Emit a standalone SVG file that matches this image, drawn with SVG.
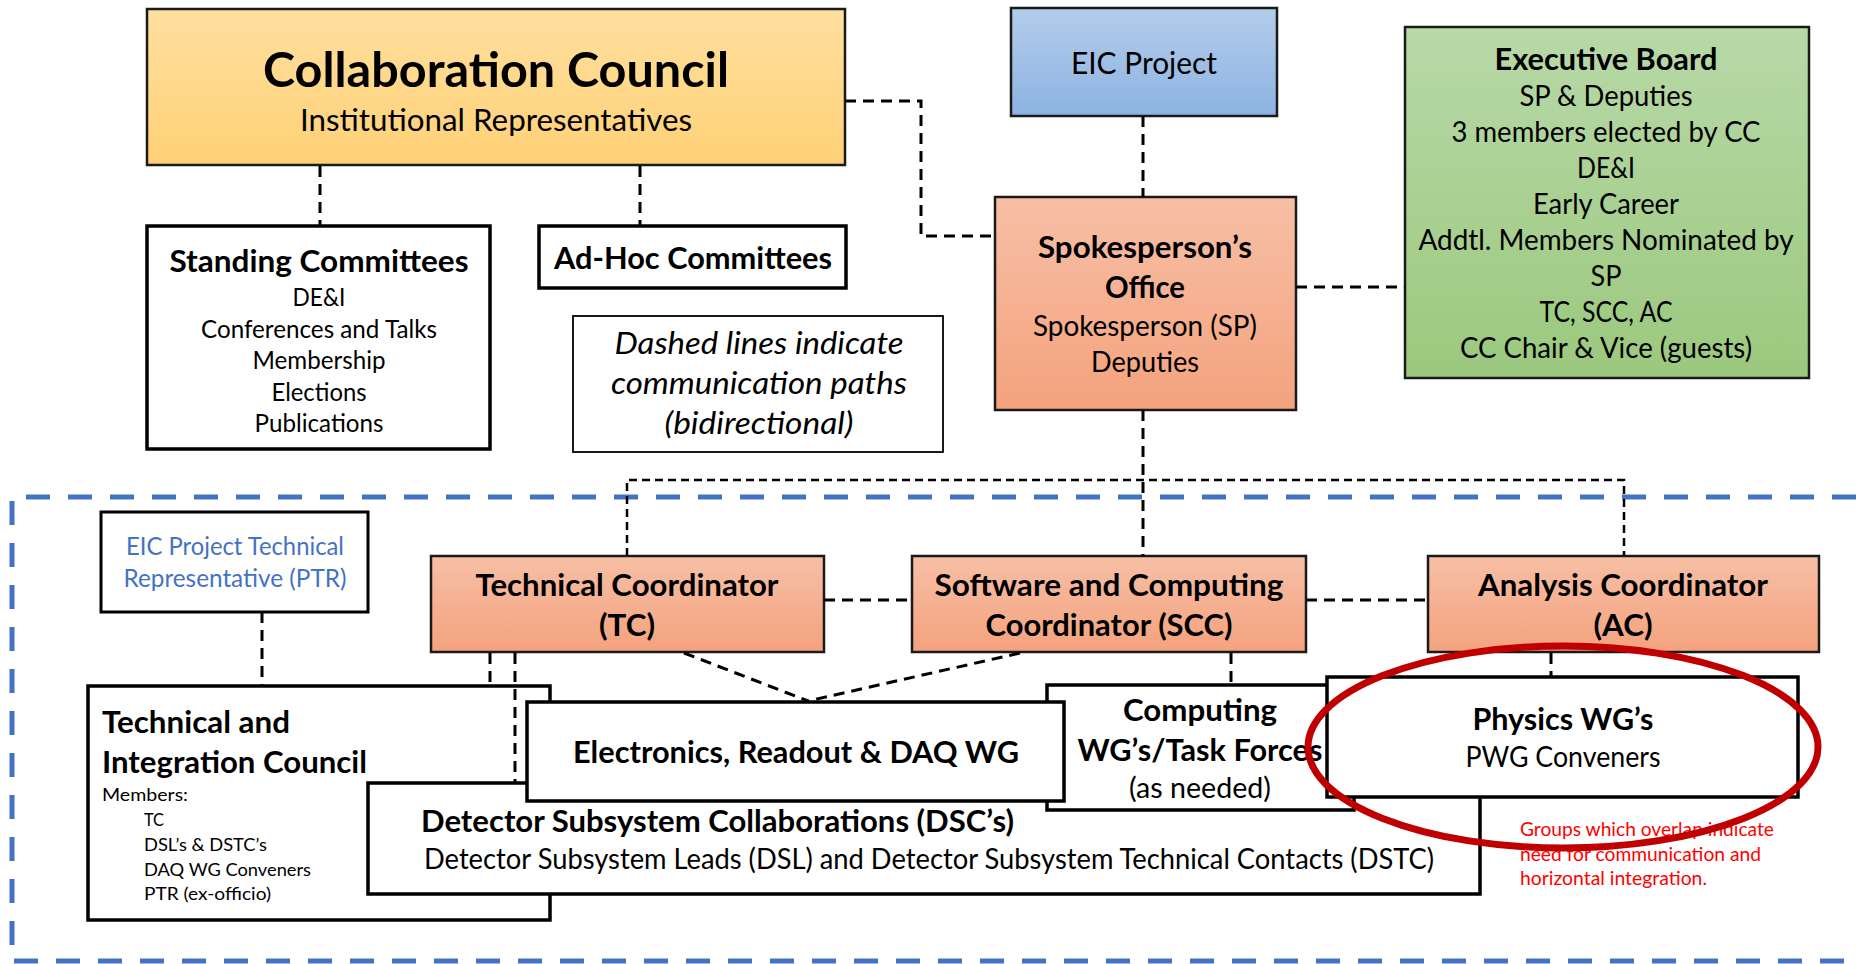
<svg xmlns="http://www.w3.org/2000/svg" width="1856" height="964" viewBox="0 0 1856 964">
<defs>
<linearGradient id="gOrange" x1="0" y1="0" x2="0" y2="1"><stop offset="0" stop-color="#FFDF9F"/><stop offset="1" stop-color="#FFD176"/></linearGradient>
<linearGradient id="gBlue" x1="0" y1="0" x2="0" y2="1"><stop offset="0" stop-color="#B4CCEA"/><stop offset="1" stop-color="#8DB3E2"/></linearGradient>
<linearGradient id="gGreen" x1="0" y1="0" x2="0" y2="1"><stop offset="0" stop-color="#B8D9A8"/><stop offset="1" stop-color="#9BC87D"/></linearGradient>
<linearGradient id="gSalmon" x1="0" y1="0" x2="0" y2="1"><stop offset="0" stop-color="#F7BFA6"/><stop offset="1" stop-color="#F4A27D"/></linearGradient>
</defs>
<style>
text{font-family:Lato,"Liberation Sans",sans-serif;fill:#000;text-anchor:middle}
.b{font-weight:700}
.it{font-style:italic}
.l{text-anchor:start}
.box{fill:#fff;stroke:#000;stroke-width:3.5}
.cbox{stroke:#1a1a1a;stroke-width:2.5}
.dash{fill:none;stroke:#000;stroke-width:3;stroke-dasharray:11 7}
.thin{fill:none;stroke:#000;stroke-width:2.5;stroke-dasharray:8 5}
.region{fill:none;stroke:#4472C4;stroke-width:5;stroke-dasharray:24 18}
.blue{fill:#4472C4}
.red{fill:#FF0000}
</style>
<rect width="1856" height="964" fill="#fff"/>
<path class="region" d="M1856,497 H12 V961 H1856"/>

<g id="collaboration-council">
<rect x="147" y="9" width="698" height="156" fill="url(#gOrange)" class="cbox"/>
<text x="496" y="87" class="b" font-size="48" textLength="466" lengthAdjust="spacingAndGlyphs">Collaboration Council</text>
<text x="496" y="131" font-size="31" textLength="392" lengthAdjust="spacingAndGlyphs">Institutional Representatives</text>
</g>
<g id="eic-project">
<rect x="1011" y="8" width="266" height="108" fill="url(#gBlue)" class="cbox"/>
<text x="1144" y="74" font-size="31" textLength="146" lengthAdjust="spacingAndGlyphs">EIC Project</text>
</g>
<g id="executive-board">
<rect x="1405" y="27" width="404" height="351" fill="url(#gGreen)" class="cbox"/>
<text x="1606" y="70" class="b" font-size="31" textLength="223" lengthAdjust="spacingAndGlyphs">Executive Board</text>
<text x="1606" y="106" font-size="28" textLength="173" lengthAdjust="spacingAndGlyphs">SP &amp; Deputies</text>
<text x="1606" y="142" font-size="28" textLength="309" lengthAdjust="spacingAndGlyphs">3 members elected by CC</text>
<text x="1606" y="178" font-size="28" textLength="58" lengthAdjust="spacingAndGlyphs">DE&amp;I</text>
<text x="1606" y="214" font-size="28" textLength="146" lengthAdjust="spacingAndGlyphs">Early Career</text>
<text x="1606" y="250" font-size="28" textLength="375" lengthAdjust="spacingAndGlyphs">Addtl. Members Nominated by</text>
<text x="1606" y="286" font-size="28" textLength="31" lengthAdjust="spacingAndGlyphs">SP</text>
<text x="1606" y="322" font-size="28" textLength="133" lengthAdjust="spacingAndGlyphs">TC, SCC, AC</text>
<text x="1606" y="358" font-size="28" textLength="292" lengthAdjust="spacingAndGlyphs">CC Chair &amp; Vice (guests)</text>
</g>
<g id="spokespersons-office">
<rect x="995" y="197" width="301" height="213" fill="url(#gSalmon)" class="cbox"/>
<text x="1145" y="258" class="b" font-size="31" textLength="214" lengthAdjust="spacingAndGlyphs">Spokesperson’s</text>
<text x="1145" y="298" class="b" font-size="31" textLength="80" lengthAdjust="spacingAndGlyphs">Office</text>
<text x="1145" y="336" font-size="28" textLength="224" lengthAdjust="spacingAndGlyphs">Spokesperson (SP)</text>
<text x="1145" y="372" font-size="28" textLength="108" lengthAdjust="spacingAndGlyphs">Deputies</text>
</g>
<g id="standing-committees">
<rect x="147" y="226" width="343" height="223" class="box"/>
<text x="319" y="272" class="b" font-size="31" textLength="299" lengthAdjust="spacingAndGlyphs">Standing Committees</text>
<text x="319" y="306" font-size="24.5" textLength="53" lengthAdjust="spacingAndGlyphs">DE&amp;I</text>
<text x="319" y="338" font-size="24.5" textLength="236" lengthAdjust="spacingAndGlyphs">Conferences and Talks</text>
<text x="319" y="369" font-size="24.5" textLength="133" lengthAdjust="spacingAndGlyphs">Membership</text>
<text x="319" y="401" font-size="24.5" textLength="95" lengthAdjust="spacingAndGlyphs">Elections</text>
<text x="319" y="432" font-size="24.5" textLength="129" lengthAdjust="spacingAndGlyphs">Publications</text>
</g>
<g id="ad-hoc-committees">
<rect x="539" y="226" width="307" height="62" class="box"/>
<text x="693" y="269" class="b" font-size="31" textLength="278" lengthAdjust="spacingAndGlyphs">Ad-Hoc Committees</text>
</g>
<g id="legend">
<rect x="573" y="316" width="370" height="136" fill="#fff" stroke="#000" stroke-width="1.8"/>
<text x="759" y="354" class="it" font-size="31" textLength="289" lengthAdjust="spacingAndGlyphs">Dashed lines indicate</text>
<text x="759" y="394" class="it" font-size="31" textLength="296" lengthAdjust="spacingAndGlyphs">communication paths</text>
<text x="759" y="434" class="it" font-size="31" textLength="189" lengthAdjust="spacingAndGlyphs">(bidirectional)</text>
</g>
<g id="ptr">
<rect x="101" y="512" width="267" height="100" fill="#fff" stroke="#000" stroke-width="3"/>
<text x="235" y="555" class="blue" font-size="24.5" textLength="218" lengthAdjust="spacingAndGlyphs">EIC Project Technical</text>
<text x="235" y="587" class="blue" font-size="24.5" textLength="223" lengthAdjust="spacingAndGlyphs">Representative (PTR)</text>
</g>
<g id="technical-coordinator">
<rect x="431" y="556" width="393" height="96" fill="url(#gSalmon)" class="cbox" stroke-width="3"/>
<text x="627" y="596" class="b" font-size="31" textLength="303" lengthAdjust="spacingAndGlyphs">Technical Coordinator</text>
<text x="627" y="636" class="b" font-size="31" textLength="56" lengthAdjust="spacingAndGlyphs">(TC)</text>
</g>
<g id="software-computing-coordinator">
<rect x="912" y="556" width="394" height="96" fill="url(#gSalmon)" class="cbox" stroke-width="3"/>
<text x="1109" y="596" class="b" font-size="31" textLength="349" lengthAdjust="spacingAndGlyphs">Software and Computing</text>
<text x="1109" y="636" class="b" font-size="31" textLength="247" lengthAdjust="spacingAndGlyphs">Coordinator (SCC)</text>
</g>
<g id="analysis-coordinator">
<rect x="1428" y="556" width="391" height="96" fill="url(#gSalmon)" class="cbox" stroke-width="3"/>
<text x="1623" y="596" class="b" font-size="31" textLength="290" lengthAdjust="spacingAndGlyphs">Analysis Coordinator</text>
<text x="1623" y="636" class="b" font-size="31" textLength="59" lengthAdjust="spacingAndGlyphs">(AC)</text>
</g>
<g id="technical-integration-council">
<rect x="88" y="686" width="462" height="234" class="box"/>
<text x="102" y="733" class="b l" font-size="31" textLength="188" lengthAdjust="spacingAndGlyphs">Technical and</text>
<text x="102" y="773" class="b l" font-size="31" textLength="265" lengthAdjust="spacingAndGlyphs">Integration Council</text>
<text x="102" y="801" class="l" font-size="18" textLength="86" lengthAdjust="spacingAndGlyphs">Members:</text>
<text x="144" y="826" class="l" font-size="18" textLength="20" lengthAdjust="spacingAndGlyphs">TC</text>
<text x="144" y="851" class="l" font-size="18" textLength="123" lengthAdjust="spacingAndGlyphs">DSL’s &amp; DSTC’s</text>
<text x="144" y="876" class="l" font-size="18" textLength="167" lengthAdjust="spacingAndGlyphs">DAQ WG Conveners</text>
<text x="144" y="900" class="l" font-size="18" textLength="127" lengthAdjust="spacingAndGlyphs">PTR (ex-officio)</text>
</g>
<g id="detector-subsystem-collaborations">
<rect x="368" y="783" width="1112" height="111" class="box"/>
<text x="421" y="832" class="b l" font-size="31" textLength="593" lengthAdjust="spacingAndGlyphs">Detector Subsystem Collaborations (DSC’s)</text>
<text x="424" y="869" class="l" font-size="28" textLength="1010" lengthAdjust="spacingAndGlyphs">Detector Subsystem Leads (DSL) and Detector Subsystem Technical Contacts (DSTC)</text>
</g>
<g id="computing-wgs">
<rect x="1047" y="685" width="307" height="125" class="box"/>
<text x="1200" y="721" class="b" font-size="31" textLength="154" lengthAdjust="spacingAndGlyphs">Computing</text>
<text x="1200" y="761" class="b" font-size="31" textLength="245" lengthAdjust="spacingAndGlyphs">WG’s/Task Forces</text>
<text x="1200" y="798" font-size="28" textLength="142" lengthAdjust="spacingAndGlyphs">(as needed)</text>
</g>
<g id="electronics-readout-daq-wg">
<rect x="527" y="702" width="537" height="99" class="box"/>
<text x="796" y="763" class="b" font-size="31" textLength="446" lengthAdjust="spacingAndGlyphs">Electronics, Readout &amp; DAQ WG</text>
</g>
<g id="physics-wgs">
<rect x="1327" y="677" width="471" height="120" class="box"/>
<text x="1563" y="730" class="b" font-size="31" textLength="181" lengthAdjust="spacingAndGlyphs">Physics WG’s</text>
<text x="1563" y="767" font-size="28" textLength="195" lengthAdjust="spacingAndGlyphs">PWG Conveners</text>
</g>

<g id="connectors">
<path class="dash" d="M845,101 H921 V236 H995"/>
<path class="dash" d="M320,166 V226"/>
<path class="dash" d="M640,166 V226"/>
<path class="dash" d="M1143,116 V197"/>
<path class="dash" d="M1296,287 H1405"/>
<path class="dash" d="M1143,410 V556"/>
<path class="dash" d="M824,600 H912"/>
<path class="dash" d="M1306,600 H1428"/>
<path class="dash" d="M262,612 V686"/>
<path class="dash" d="M490,653 V686"/>
<path class="dash" d="M515,653 V783"/>
<path class="dash" d="M684,653 L808,701"/>
<path class="dash" d="M1020,653 L808,701"/>
<path class="dash" d="M1231,653 V685"/>
<path class="dash" d="M1551,653 V677"/>
<path class="thin" d="M627,556 V480 H1624 V556"/>
</g>

<g id="overlap-note">
<text x="1520" y="836" class="red l" font-size="19" textLength="254" lengthAdjust="spacingAndGlyphs">Groups which overlap indicate</text>
<text x="1520" y="861" class="red l" font-size="19" textLength="241" lengthAdjust="spacingAndGlyphs">need for communication and</text>
<text x="1520" y="885" class="red l" font-size="19" textLength="187" lengthAdjust="spacingAndGlyphs">horizontal integration.</text>
<ellipse cx="1563" cy="747" rx="255" ry="101" fill="none" stroke="#C00000" stroke-width="7"/>
</g>
</svg>
